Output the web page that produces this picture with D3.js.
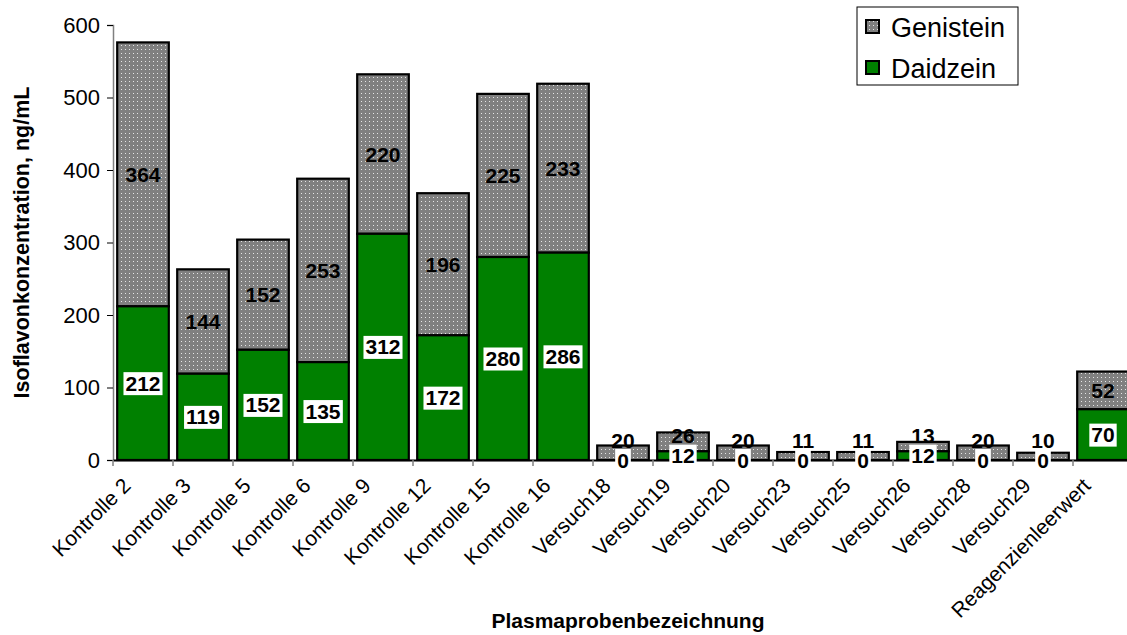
<!DOCTYPE html>
<html><head><meta charset="utf-8">
<script src="https://cdn.jsdelivr.net/npm/d3@7"></script>
<style>
html,body{margin:0;padding:0;background:#fff;}
svg{display:block;font-family:Arial,"Liberation Sans",sans-serif;}
</style></head>
<body>
<svg id="chart" width="1127" height="635"></svg>
<script>
const categories = ["Kontrolle 2","Kontrolle 3","Kontrolle 5","Kontrolle 6","Kontrolle 9","Kontrolle 12","Kontrolle 15","Kontrolle 16","Versuch18","Versuch19","Versuch20","Versuch23","Versuch25","Versuch26","Versuch28","Versuch29","Reagenzienleerwert"];
const daidzein = [212,119,152,135,312,172,280,286,0,12,0,0,0,12,0,0,70];
const genistein = [364,144,152,253,220,196,225,233,20,26,20,11,11,13,20,10,52];
const yTicks = [0,100,200,300,400,500,600];
const seriesNames = ["Genistein","Daidzein"];

const svg = d3.select("#chart");
const pL = 113, pR = 1133, pT = 25, pB = 460;

const defs = svg.append("defs");
const pat = defs.append("pattern").attr("id","dots").attr("patternUnits","userSpaceOnUse")
  .attr("width",4).attr("height",4);
pat.append("rect").attr("width",4).attr("height",4).attr("fill","#808080");
pat.append("rect").attr("x",1).attr("y",1).attr("width",1).attr("height",1).attr("fill","#e6e6e6");

const x = d3.scaleBand().domain(categories).range([pL,pR]).paddingInner(0.14).paddingOuter(0.07);
const xTick = d3.scaleBand().domain(categories).range([pL,pR]);
const y = d3.scaleLinear().domain([0,600]).range([pB,pT]);

const data = categories.map((c,i)=>({c, d:daidzein[i], g:genistein[i]}));

// bars
const gBars = svg.append("g");
data.forEach(o=>{
  gBars.append("rect").attr("x",x(o.c)).attr("width",x.bandwidth())
    .attr("y",y(o.d+o.g)).attr("height",y(o.d)-y(o.d+o.g))
    .attr("fill","url(#dots)").attr("stroke","#000").attr("stroke-width",2.2);
  if(o.d>0){
    gBars.append("rect").attr("x",x(o.c)).attr("width",x.bandwidth())
      .attr("y",y(o.d)).attr("height",y(0)-y(o.d))
      .attr("fill","#008000").attr("stroke","#000").attr("stroke-width",2.2);
  }
});

// y axis
const yAxis = svg.append("g").attr("transform",`translate(${pL},0)`)
  .call(d3.axisLeft(y).tickValues(yTicks).tickSize(6).tickPadding(7));
yAxis.select(".domain").attr("stroke","#808080").attr("stroke-width",1.5);
yAxis.selectAll(".tick line").attr("stroke","#000").attr("stroke-width",1);
yAxis.selectAll("text").attr("font-size",22).attr("fill","#000").attr("font-family","Arial, Liberation Sans, sans-serif");

// x axis
const xAxis = svg.append("g").attr("transform",`translate(0,${pB})`)
  .call(d3.axisBottom(xTick).tickValues([]).tickSizeOuter(0));
xAxis.select(".domain").attr("stroke","#000").attr("stroke-width",2);
const tickPos = categories.map(c=>xTick(c)).concat([pR]);
svg.append("g").selectAll("line").data(tickPos).join("line")
  .attr("x1",d=>d).attr("x2",d=>d).attr("y1",pB).attr("y2",pB+6)
  .attr("stroke","#808080").attr("stroke-width",1.5);
svg.append("g").selectAll("text").data(categories).join("text")
  .attr("transform",c=>`translate(${xTick(c)+xTick.bandwidth()/2-11},${pB+27}) rotate(-45)`)
  .attr("text-anchor","end").attr("font-size",21).attr("fill","#000").text(c=>c);

// data labels
const lab = svg.append("g").attr("font-weight","bold").attr("font-size",21).attr("text-anchor","middle");
const boxes = lab.append("g"), texts = lab.append("g");
data.forEach(o=>{
  const cx = x(o.c)+x.bandwidth()/2;
  const dy = y(o.d/2);
  const t = texts.append("text").attr("x",cx).attr("y",dy).attr("dy","0.36em").text(o.d);
  const bb = t.node().getBBox();
  boxes.append("rect").attr("x",bb.x-2).attr("y",dy-11).attr("width",bb.width+4).attr("height",23).attr("fill","#fff");
  const gy = Math.min(y(o.d+o.g/2), dy-20);
  texts.append("text").attr("x",cx).attr("y",gy).attr("dy","0.36em").text(o.g);
});

// axis titles
svg.append("text").attr("transform",`translate(29,${(pT+pB)/2}) rotate(-90)`)
  .attr("text-anchor","middle").attr("font-weight","bold").attr("font-size",21.5).text("Isoflavonkonzentration, ng/mL");
svg.append("text").attr("x",628).attr("y",628).attr("text-anchor","middle")
  .attr("font-weight","bold").attr("font-size",21).text("Plasmaprobenbezeichnung");

// legend
const lg = svg.append("g");
lg.append("rect").attr("x",857).attr("y",7).attr("width",161).attr("height",78)
  .attr("fill","#fff").attr("stroke","#000").attr("stroke-width",1);
const fills = ["url(#dots)","#008000"];
seriesNames.forEach((s,i)=>{
  const yy = 27 + i*41;
  lg.append("rect").attr("x",866).attr("y",yy-7).attr("width",13).attr("height",13)
    .attr("fill",fills[i]).attr("stroke","#000").attr("stroke-width",2);
  lg.append("text").attr("x",891).attr("y",yy).attr("dy","0.36em").attr("font-size",27).text(s);
});
</script>
</body></html>
